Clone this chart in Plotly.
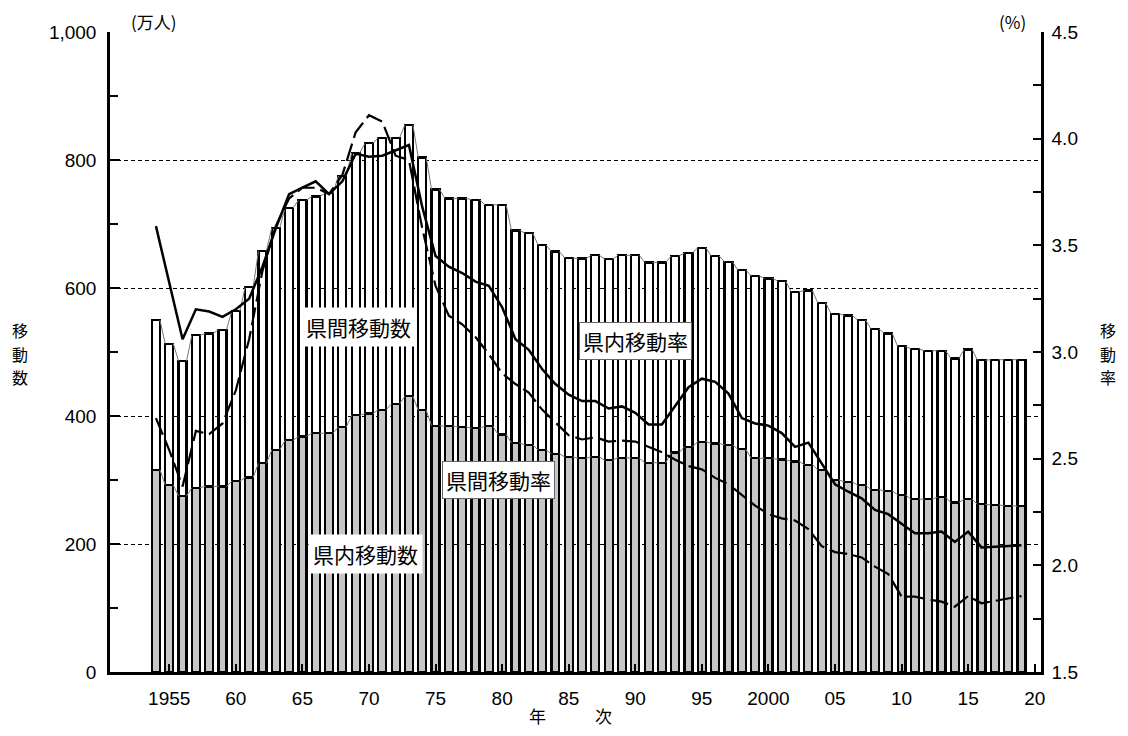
import numpy as np
import plotly.graph_objects as go

years = list(range(1954, 2020))

# 県内移動数 (万人) - lower, gray segment
intra_movers = [316, 292, 275, 288, 290, 290, 298, 304, 326, 347,
                362, 368, 373, 373, 383, 401, 404, 410, 419, 431,
                409, 385, 384, 383, 381, 384, 371, 358, 355, 347,
                341, 336, 334, 336, 331, 335, 334, 327, 327, 343,
                352, 360, 357, 355, 348, 334, 334, 332, 329, 324,
                316, 300, 297, 292, 285, 283, 277, 270, 270, 273,
                265, 270, 262, 261, 260, 259]

# 県間移動数 (万人) - upper, white segment
inter_movers = [234, 221, 211, 238, 239, 245, 266, 297, 332, 347,
                363, 369, 370, 375, 392, 410, 422, 425, 416, 424,
                395, 369, 356, 357, 357, 346, 359, 332, 331, 320,
                316, 311, 312, 315, 314, 316, 317, 313, 313, 307,
                303, 303, 293, 286, 280, 285, 281, 279, 265, 272,
                261, 260, 260, 258, 251, 246, 232, 235, 232, 229,
                225, 234, 225, 227, 228, 229]

# 県内移動率 (%) - solid line
intra_rate = [3.59, 3.32, 3.06, 3.20, 3.19, 3.165, 3.20, 3.25, 3.40, 3.58,
              3.74, 3.77, 3.80, 3.74, 3.80, 3.93, 3.915, 3.92, 3.945, 3.97,
              3.68, 3.45, 3.40, 3.37, 3.33, 3.31, 3.21, 3.06, 3.01, 2.92,
              2.85, 2.80, 2.77, 2.77, 2.735, 2.745, 2.715, 2.66, 2.66, 2.745,
              2.835, 2.875, 2.86, 2.805, 2.69, 2.665, 2.655, 2.62, 2.555, 2.575,
              2.48, 2.38, 2.345, 2.314, 2.26, 2.24, 2.195, 2.15, 2.15, 2.158,
              2.11, 2.158, 2.084, 2.087, 2.09, 2.094]

# 県間移動率 (%) - dashed line
inter_rate = [2.69, 2.54, 2.37, 2.63, 2.615, 2.665, 2.82, 3.06, 3.38, 3.59,
              3.72, 3.77, 3.77, 3.74, 3.83, 4.03, 4.11, 4.08, 3.92, 3.90,
              3.58, 3.31, 3.17, 3.13, 3.07, 2.99, 2.90, 2.85, 2.81, 2.73,
              2.67, 2.61, 2.59, 2.60, 2.58, 2.585, 2.58, 2.555, 2.53, 2.495,
              2.465, 2.45, 2.41, 2.38, 2.33, 2.28, 2.24, 2.22, 2.21, 2.17,
              2.09, 2.062, 2.053, 2.037, 1.994, 1.959, 1.853, 1.853, 1.84, 1.83,
              1.806, 1.856, 1.822, 1.833, 1.845, 1.856]

x_tick_years = [1955, 1960, 1965, 1970, 1975, 1980, 1985, 1990, 1995,
                2000, 2005, 2010, 2015, 2020]
x_tick_text = ["1955", "60", "65", "70", "75", "80", "85", "90", "95",
               "2000", "05", "10", "15", "20"]
y_tick_vals = [0, 200, 400, 600, 800, 1000]
y_tick_text = ["0", "200", "400", "600", "800", "1,000"]

BAR_W = 0.6
JP = "Noto Sans CJK JP"
NUM = "Liberation Sans, Arial, sans-serif"

yrs = np.array(years, dtype=float)
intra = np.array(intra_movers, dtype=float)
total = intra + np.array(inter_movers, dtype=float)


def series_lines(tops):
    xs, ys = [], []
    for i in range(len(yrs) - 1):
        xs += [yrs[i] + BAR_W / 2, yrs[i + 1] - BAR_W / 2, None]
        ys += [tops[i], tops[i + 1], None]
    return xs, ys


fig = go.Figure()
fig.add_trace(go.Bar(x=years, y=intra_movers, width=BAR_W, name="県内移動数",
                     marker=dict(color="#c6c6c6", line=dict(color="black", width=2.2)),
                     showlegend=False))
fig.add_trace(go.Bar(x=years, y=inter_movers, width=BAR_W, name="県間移動数",
                     marker=dict(color="white", line=dict(color="black", width=2.2)),
                     showlegend=False))
for tops in (intra, total):
    sx, sy = series_lines(tops)
    fig.add_trace(go.Scatter(x=sx, y=sy, mode="lines", line=dict(color="#777", width=1),
                             showlegend=False, hoverinfo="skip"))

fig.add_trace(go.Scatter(x=years, y=intra_rate, yaxis="y2", mode="lines", name="県内移動率",
                         line=dict(color="black", width=2.5), showlegend=False))
fig.add_trace(go.Scatter(x=years, y=inter_rate, yaxis="y2", mode="lines", name="県間移動率",
                         line=dict(color="black", width=2.2, dash="18px,6px"), showlegend=False))

# plot area in reference-pixel coordinates (page has an 8px body margin)
L, R, T, B = 110, 1040.7, 32, 672
PW, PH = R - L, B - T
OFF = 8
FIG_W, FIG_H = 1128 - 2 * OFF, 736 - 2 * OFF


def px(xp):
    return (xp - L) / PW


def py(yp):
    return (B - yp) / PH


def txt(text, xp, yp, size=18, **kw):
    d = dict(text=text, x=px(xp), y=py(yp), xref="paper", yref="paper", showarrow=False,
             xanchor="center", yanchor="middle", font=dict(family=JP, size=size, color="black"))
    d.update(kw)
    return d


annotations = [
    txt("(万人)", 154, 21, 17),
    txt("(%)", 1012, 21, 17),
    txt("年", 537, 715, 17),
    txt("次", 603, 715, 17),
]
for ch, yy in zip("移動数", (330, 353.5, 377)):
    annotations.append(txt(ch, 20, yy, 16))
for ch, yy in zip("移動率", (330, 353.5, 377)):
    annotations.append(txt(ch, 1108, yy, 16))

annotations += [
    txt("県間移動数", 358, 327, 21, bgcolor="white", borderpad=4),
    txt("県内移動数", 365, 554, 21, bgcolor="white", borderpad=4),
    # callout pointers to the rate lines
    dict(text="", x=1985, y=intra_rate[years.index(1985)], xref="x", yref="y2",
         ax=px(583), ay=py(356), axref="x domain", ayref="y domain", showarrow=True,
         arrowhead=0, arrowwidth=1.2, arrowcolor="#444"),
    dict(text="", x=1985, y=inter_rate[years.index(1985)], xref="x", yref="y2",
         ax=px(560), ay=py(467), axref="x domain", ayref="y domain", showarrow=True,
         arrowhead=0, arrowwidth=1.2, arrowcolor="#444"),
    txt("県内移動率", 635, 341, 21, bgcolor="white", bordercolor="#666", borderwidth=1, borderpad=3),
    txt("県間移動率", 498, 480, 21, bgcolor="white", bordercolor="#666", borderwidth=1, borderpad=3),
]

fig.update_layout(
    width=FIG_W, height=FIG_H,
    margin=dict(l=L - OFF, r=FIG_W - (R - OFF), t=T - OFF, b=FIG_H - (B - OFF), pad=0),
    paper_bgcolor="white", plot_bgcolor="white",
    barmode="stack",
    showlegend=False,
    font=dict(family=NUM, size=19, color="black"),
    xaxis=dict(range=[1950.55, 2020.47], tickmode="array", tickvals=x_tick_years,
               ticktext=x_tick_text, ticks="inside", ticklen=8, tickwidth=2, tickcolor="black",
               showline=True, linewidth=2.5, linecolor="black", showgrid=False, zeroline=False,
               tickfont=dict(family=NUM, size=19), ticklabelstandoff=7),
    yaxis=dict(range=[0, 1000], tickmode="array", tickvals=y_tick_vals, ticktext=y_tick_text,
               ticks="inside", ticklen=10, tickwidth=2, tickcolor="black",
               minor=dict(dtick=100, ticks="inside", ticklen=8, tickwidth=1.5, tickcolor="black",
                          showgrid=False),
               showline=True, linewidth=2.5, linecolor="black",
               showgrid=True, gridcolor="black", gridwidth=1, griddash="4px,3px",
               zeroline=False, tickfont=dict(family=NUM, size=19), ticklabelstandoff=7),
    yaxis2=dict(range=[1.5, 4.5], overlaying="y", side="right", tickmode="linear",
                tick0=1.5, dtick=0.5, tickformat=".1f",
                ticks="inside", ticklen=8, tickwidth=2, tickcolor="black",
                minor=dict(dtick=0.25, ticks="inside", ticklen=8, tickwidth=1.5, tickcolor="black",
                           showgrid=False),
                showline=True, linewidth=2.5, linecolor="black", showgrid=False, zeroline=False,
                tickfont=dict(family=NUM, size=19), ticklabelstandoff=4),
    annotations=annotations,
)

fig.write_html("out.html")
